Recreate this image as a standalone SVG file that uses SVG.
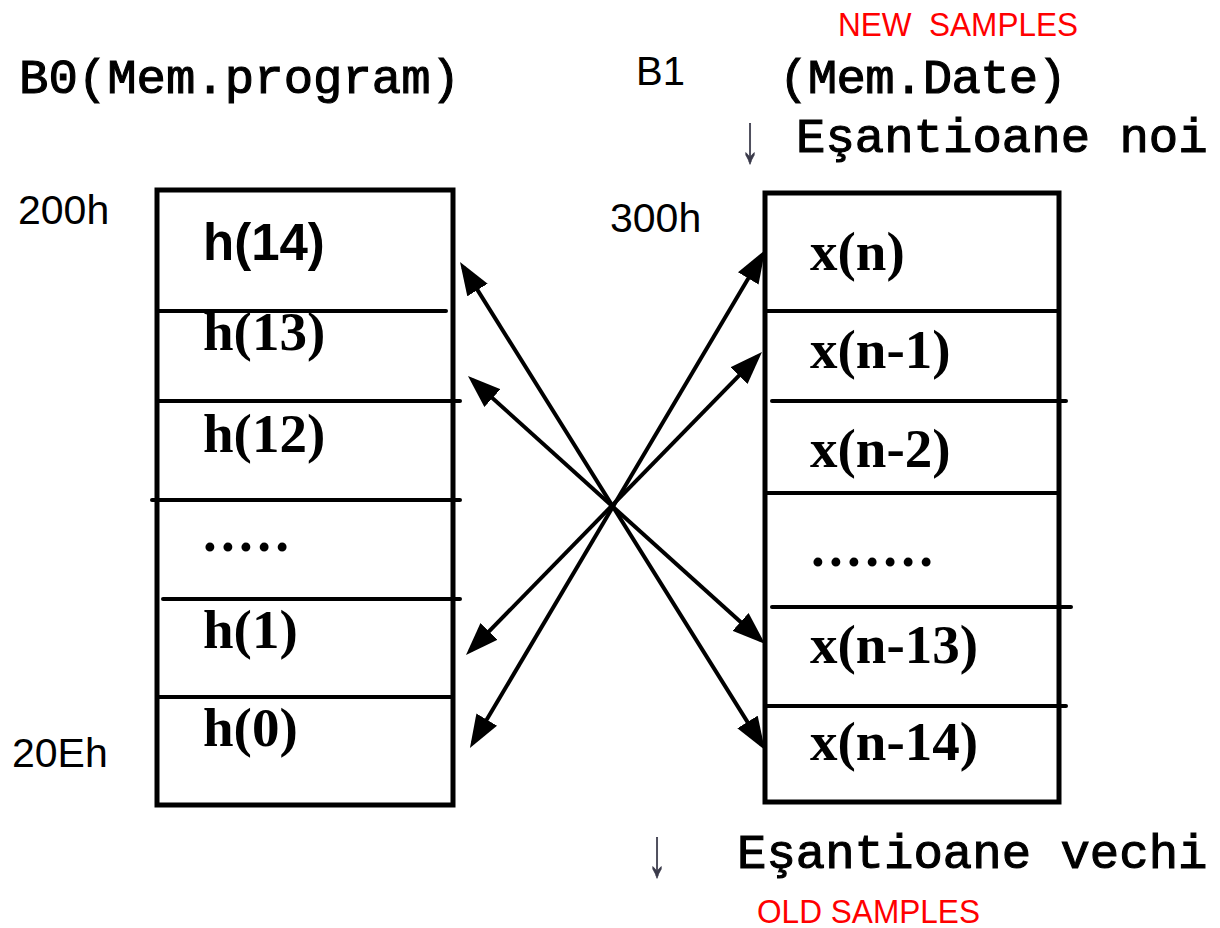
<svg xmlns="http://www.w3.org/2000/svg" width="1220" height="928" viewBox="0 0 1220 928">
  <style>
    .mono { font-family: "Liberation Mono", "Courier New", monospace; font-size: 49px; fill: #000; stroke: #000; stroke-width: 1.1px; }
    .sans { font-family: "Liberation Sans", Arial, sans-serif; fill: #000; }
    .addr { font-family: "Liberation Sans", Arial, sans-serif; font-size: 41px; fill: #000; }
    .red { font-family: "Liberation Sans", Arial, sans-serif; font-size: 33px; fill: #ff0000; white-space: pre; }
    .cell { font-family: "Liberation Serif", "Times New Roman", serif; font-weight: bold; font-size: 55px; fill: #000; }
    .dots { letter-spacing: 4.3px; }
    .frame { fill: none; stroke: #000; stroke-width: 5; }
    .sep { stroke: #000; stroke-width: 4; stroke-linecap: round; }
    .link { stroke: #000; stroke-width: 4; fill: none; marker-start: url(#head); marker-end: url(#head); }
    .pointer { font-family: "Liberation Mono", "Courier New", monospace; font-size: 49px; fill: #3a3a4a; stroke: #3a3a4a; stroke-width: 0.6px; text-anchor: middle; }
  </style>
  <defs>
    <marker id="head" viewBox="0 0 33 24" refX="27" refY="12" markerWidth="33" markerHeight="24" markerUnits="userSpaceOnUse" orient="auto-start-reverse">
      <path d="M0,0 L33,12 L0,24 z" fill="#000"/>
    </marker>
  </defs>
  <rect width="1220" height="928" fill="#fff"/>

  <!-- headings -->
  <g id="titles">
    <text class="red" x="838" y="36" textLength="240" lengthAdjust="spacingAndGlyphs">NEW  SAMPLES</text>
    <text class="mono" x="19" y="93">B0(Mem.program)</text>
    <text class="sans" x="636" y="85" font-size="40">B1</text>
    <text class="mono" x="779" y="93" textLength="288">(Mem.Date)</text>
    <text class="pointer" transform="translate(750,162) scale(0.75,1.4)">↓</text>
    <text class="mono" x="796" y="152">Eşantioane noi</text>
    <text class="pointer" transform="translate(657,876) scale(0.75,1.4)">↓</text>
    <text class="mono" x="737" y="868">Eşantioane vechi</text>
    <text class="red" x="757" y="923" font-size="32" textLength="223" lengthAdjust="spacingAndGlyphs">OLD SAMPLES</text>
  </g>

  <!-- address labels -->
  <g id="addresses">
    <text class="addr" x="18" y="224">200h</text>
    <text class="addr" x="12" y="767">20Eh</text>
    <text class="addr" x="610" y="232">300h</text>
  </g>

  <!-- program memory: filter coefficients -->
  <g id="b0-program-memory">
    <rect class="frame" x="157" y="190" width="296" height="615"/>
    <line class="sep" x1="157" y1="311" x2="446" y2="311"/>
    <line class="sep" x1="157" y1="401" x2="460" y2="401"/>
    <line class="sep" x1="152" y1="500" x2="460" y2="500"/>
    <line class="sep" x1="163" y1="599" x2="460" y2="599"/>
    <line class="sep" x1="157" y1="697" x2="453" y2="697"/>
    <text class="sans" x="203" y="260" font-size="51" font-weight="bold">h(14)</text>
    <text class="cell" x="203" y="350">h(13)</text>
    <text class="cell" x="203" y="452">h(12)</text>
    <text class="cell dots" x="203" y="551">.....</text>
    <text class="cell" x="203" y="648">h(1)</text>
    <text class="cell" x="203" y="746">h(0)</text>
  </g>

  <!-- data memory: input samples -->
  <g id="b1-data-memory">
    <rect class="frame" x="765" y="193" width="294" height="609"/>
    <line class="sep" x1="765" y1="311" x2="1059" y2="311"/>
    <line class="sep" x1="772" y1="401" x2="1066" y2="401"/>
    <line class="sep" x1="765" y1="493" x2="1059" y2="493"/>
    <line class="sep" x1="772" y1="607" x2="1071" y2="607"/>
    <line class="sep" x1="765" y1="706" x2="1066" y2="706"/>
    <text class="cell" x="810" y="270">x(n)</text>
    <text class="cell" x="810" y="368">x(n-1)</text>
    <text class="cell" x="810" y="467">x(n-2)</text>
    <text class="cell dots" x="811" y="566">.......</text>
    <text class="cell" x="810" y="663">x(n-13)</text>
    <text class="cell" x="810" y="760">x(n-14)</text>
  </g>

  <!-- coefficient/sample pairings, all crossing in the middle -->
  <g id="connectors">
    <line class="link" x1="463.2" y1="267.1" x2="761.8" y2="744.9"/>
    <line class="link" x1="472.4" y1="380.0" x2="760.6" y2="640.0"/>
    <line class="link" x1="762.0" y1="255.2" x2="473.0" y2="742.8"/>
    <line class="link" x1="757.8" y1="356.3" x2="470.2" y2="650.7"/>
  </g>
</svg>
